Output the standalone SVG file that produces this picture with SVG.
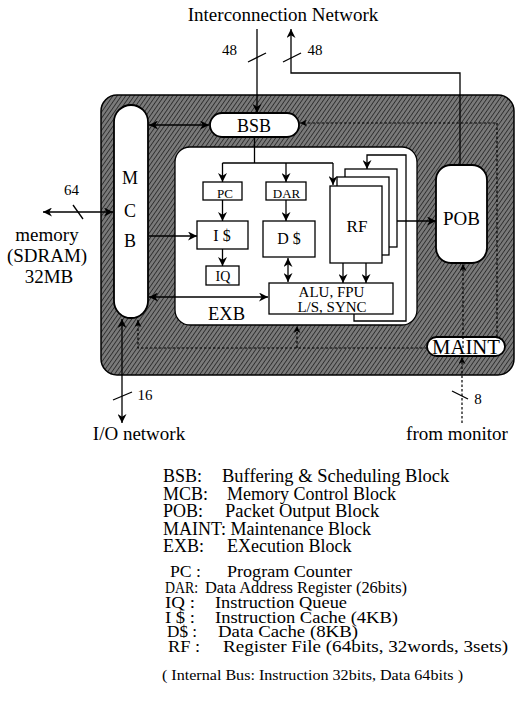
<svg xmlns="http://www.w3.org/2000/svg" width="515" height="703" viewBox="0 0 515 703" font-family="'Liberation Serif', 'Times New Roman', serif">
<defs>
<pattern id="hatch" width="3.5" height="3.5" patternUnits="userSpaceOnUse" patternTransform="rotate(35)">
<rect width="3.5" height="3.5" fill="#7a7a7a"/>
<line x1="0" y1="0" x2="0" y2="3.5" stroke="#2e2e2e" stroke-width="1.8"/>
</pattern>
<marker id="ah" viewBox="0 0 10 10" refX="10" refY="5" markerWidth="9" markerHeight="9" markerUnits="userSpaceOnUse" orient="auto-start-reverse">
<path d="M0,0 L10,5 L0,10 L3,5 z" fill="#000"/>
</marker>
<marker id="ahs" viewBox="0 0 10 10" refX="10" refY="5" markerWidth="7" markerHeight="7" markerUnits="userSpaceOnUse" orient="auto-start-reverse">
<path d="M0,0 L10,5 L0,10 L3,5 z" fill="#000"/>
</marker>
</defs>
<style>
text{fill:#000}
.box{fill:#fff;stroke:#000;stroke-width:1.3}
.pill{fill:#fff;stroke:#000;stroke-width:1.8}
.ln{fill:none;stroke:#000;stroke-width:1.3}
.arr{fill:none;stroke:#000;stroke-width:1.3;marker-end:url(#ah)}
.darr{fill:none;stroke:#000;stroke-width:1.3;marker-end:url(#ah);marker-start:url(#ah)}
.dasharr{fill:none;stroke:#000;stroke-width:1.2;stroke-dasharray:2.5,2;marker-end:url(#ahs)}
</style>

<g id="chip">
<rect x="101" y="95" width="413" height="280" rx="16" fill="url(#hatch)" stroke="#000" stroke-width="1.5"/>
</g>
<g id="exb">
<rect x="175" y="147" width="242" height="178" rx="15" fill="#fff" stroke="#000" stroke-width="1.3"/>
<text x="226.5" y="320" font-size="18.5" text-anchor="middle">EXB</text>
</g>
<g id="mcb" font-size="18" text-anchor="middle">
<rect x="114" y="105" width="34" height="213" rx="17" class="pill"/>
<text x="130" y="184">M</text>
<text x="130" y="217">C</text>
<text x="130" y="247">B</text>
</g>
<g id="bsb" font-size="18" text-anchor="middle">
<rect x="210" y="113" width="89" height="24" rx="12" class="pill"/>
<text x="254" y="132">BSB</text>
</g>
<g id="pob" font-size="19" text-anchor="middle">
<rect x="436" y="165" width="51" height="98" rx="15" class="pill"/>
<text x="461.5" y="225">POB</text>
</g>
<g id="maint" font-size="20" text-anchor="middle">
<rect x="427" y="337" width="78" height="19" rx="9.5" class="pill"/>
<text x="466" y="354" textLength="68" lengthAdjust="spacingAndGlyphs">MAINT</text>
</g>
<g id="pc" font-size="13" text-anchor="middle">
<rect x="203" y="182" width="39" height="18" class="box"/>
<text x="225" y="198">PC</text>
</g>
<g id="dar" font-size="13" text-anchor="middle">
<rect x="266" y="182" width="40" height="18" class="box"/>
<text x="286.5" y="198">DAR</text>
</g>
<g id="icache" font-size="16" text-anchor="middle">
<rect x="197" y="221" width="51" height="28" class="box"/>
<text x="222" y="241">I $</text>
</g>
<g id="dcache" font-size="16" text-anchor="middle">
<rect x="263" y="221" width="52" height="36" class="box"/>
<text x="289" y="244">D $</text>
</g>
<g id="iq" font-size="14" text-anchor="middle">
<rect x="206" y="266" width="33" height="19" class="box"/>
<text x="223" y="281">IQ</text>
</g>
<g id="alu" font-size="15" text-anchor="middle">
<rect x="269" y="283" width="124" height="31" class="box"/>
<text x="331.5" y="297">ALU, FPU</text>
<text x="332" y="312">L/S, SYNC</text>
</g>
<g id="rf" font-size="17" text-anchor="middle">
<rect x="345" y="169" width="52" height="78" class="box"/>
<rect x="337" y="177" width="52" height="78" class="box"/>
<rect x="330" y="186" width="52" height="77" class="box"/>
<text x="357" y="232">RF</text>
</g>

<g id="connectors">
<path d="M257,29 V113" class="arr"/>
<path d="M460,165 V73 H291 V29" class="arr"/>
<path d="M248,62 L266,53" class="ln"/>
<path d="M283,62 L301,53" class="ln"/>
<path d="M149,125 H209" class="darr"/>
<path d="M254.5,137 V163" class="ln"/>
<path d="M222.5,163 H333" class="ln"/>
<path d="M222.5,163 V182" class="arr"/>
<path d="M286,163 V182" class="arr"/>
<path d="M333,163 V185" class="arr"/>
<path d="M222.5,200 V221" class="arr"/>
<path d="M222.5,249 V266" class="arr"/>
<path d="M286,200 V221" class="arr"/>
<path d="M288,258 V282" class="darr"/>
<path d="M149,236 H197" class="arr"/>
<path d="M149,297 H268" class="darr"/>
<path d="M343,263 V283" class="arr"/>
<path d="M366,263 V283" class="arr"/>
<path d="M354,314 V321 H406 V155 H367 V169" class="arr"/>
<path d="M397,221 H436" class="arr"/>
<path d="M43,212 H113" class="darr"/>
<path d="M73,205 L83,219" class="ln"/>
<path d="M122,319 V423" class="darr"/>
<path d="M113,400 L132,392" class="ln"/>
<path d="M462,423 V357" class="dasharr"/>
<path d="M452,391 L468,399" class="ln"/>
<path d="M427,348 H138 V320" class="dasharr"/>
<path d="M297,348 V326" class="dasharr"/>
<path d="M463,348 V264" class="dasharr"/>
<path d="M497,337 V123 H300" class="dasharr"/>
</g>

<g id="labels" font-size="19" text-anchor="middle">
<text x="283" y="21">Interconnection  Network</text>
<text x="229.5" y="55" font-size="15">48</text>
<text x="315" y="55" font-size="15">48</text>
<text x="71.5" y="195" font-size="15">64</text>
<text x="47" y="241">memory</text>
<text x="47" y="262">(SDRAM)</text>
<text x="49" y="283">32MB</text>
<text x="145" y="400" font-size="15">16</text>
<text x="478" y="404" font-size="15">8</text>
<text x="139" y="440">I/O network</text>
<text x="457" y="440">from monitor</text>
</g>

<g id="legend" font-size="18">
<text x="163" y="482">BSB:</text>
<text x="222" y="482" font-size="18.5">Buffering &amp; Scheduling Block</text>
<text x="163" y="500">MCB:</text>
<text x="227" y="500">Memory Control Block</text>
<text x="163" y="517">POB:</text>
<text x="225" y="517" font-size="18.5">Packet Output Block</text>
<text x="163" y="535">MAINT: Maintenance Block</text>
<text x="163" y="552">EXB:</text>
<text x="227" y="552">EXecution Block</text>
</g>
<g id="legend2" font-size="16">
<text x="170" y="577" textLength="31" lengthAdjust="spacingAndGlyphs">PC :</text>
<text x="227" y="577" textLength="125" lengthAdjust="spacingAndGlyphs">Program Counter</text>
<text x="165" y="593" textLength="33" lengthAdjust="spacingAndGlyphs">DAR:</text>
<text x="205" y="593" textLength="202" lengthAdjust="spacingAndGlyphs">Data Address Register (26bits)</text>
<text x="165" y="608" textLength="30" lengthAdjust="spacingAndGlyphs">IQ :</text>
<text x="215" y="608" textLength="132" lengthAdjust="spacingAndGlyphs">Instruction Queue</text>
<text x="165" y="623" textLength="30" lengthAdjust="spacingAndGlyphs">I $ :</text>
<text x="215" y="623" textLength="183" lengthAdjust="spacingAndGlyphs">Instruction Cache (4KB)</text>
<text x="167" y="637" textLength="30" lengthAdjust="spacingAndGlyphs">D$ :</text>
<text x="218" y="637" textLength="140" lengthAdjust="spacingAndGlyphs">Data Cache (8KB)</text>
<text x="168" y="652" textLength="32" lengthAdjust="spacingAndGlyphs">RF :</text>
<text x="223" y="652" textLength="285" lengthAdjust="spacingAndGlyphs">Register File (64bits, 32words, 3sets)</text>
<text x="162" y="680" font-size="14" textLength="301" lengthAdjust="spacingAndGlyphs">( Internal Bus:  Instruction 32bits, Data 64bits )</text>
</g>
</svg>
